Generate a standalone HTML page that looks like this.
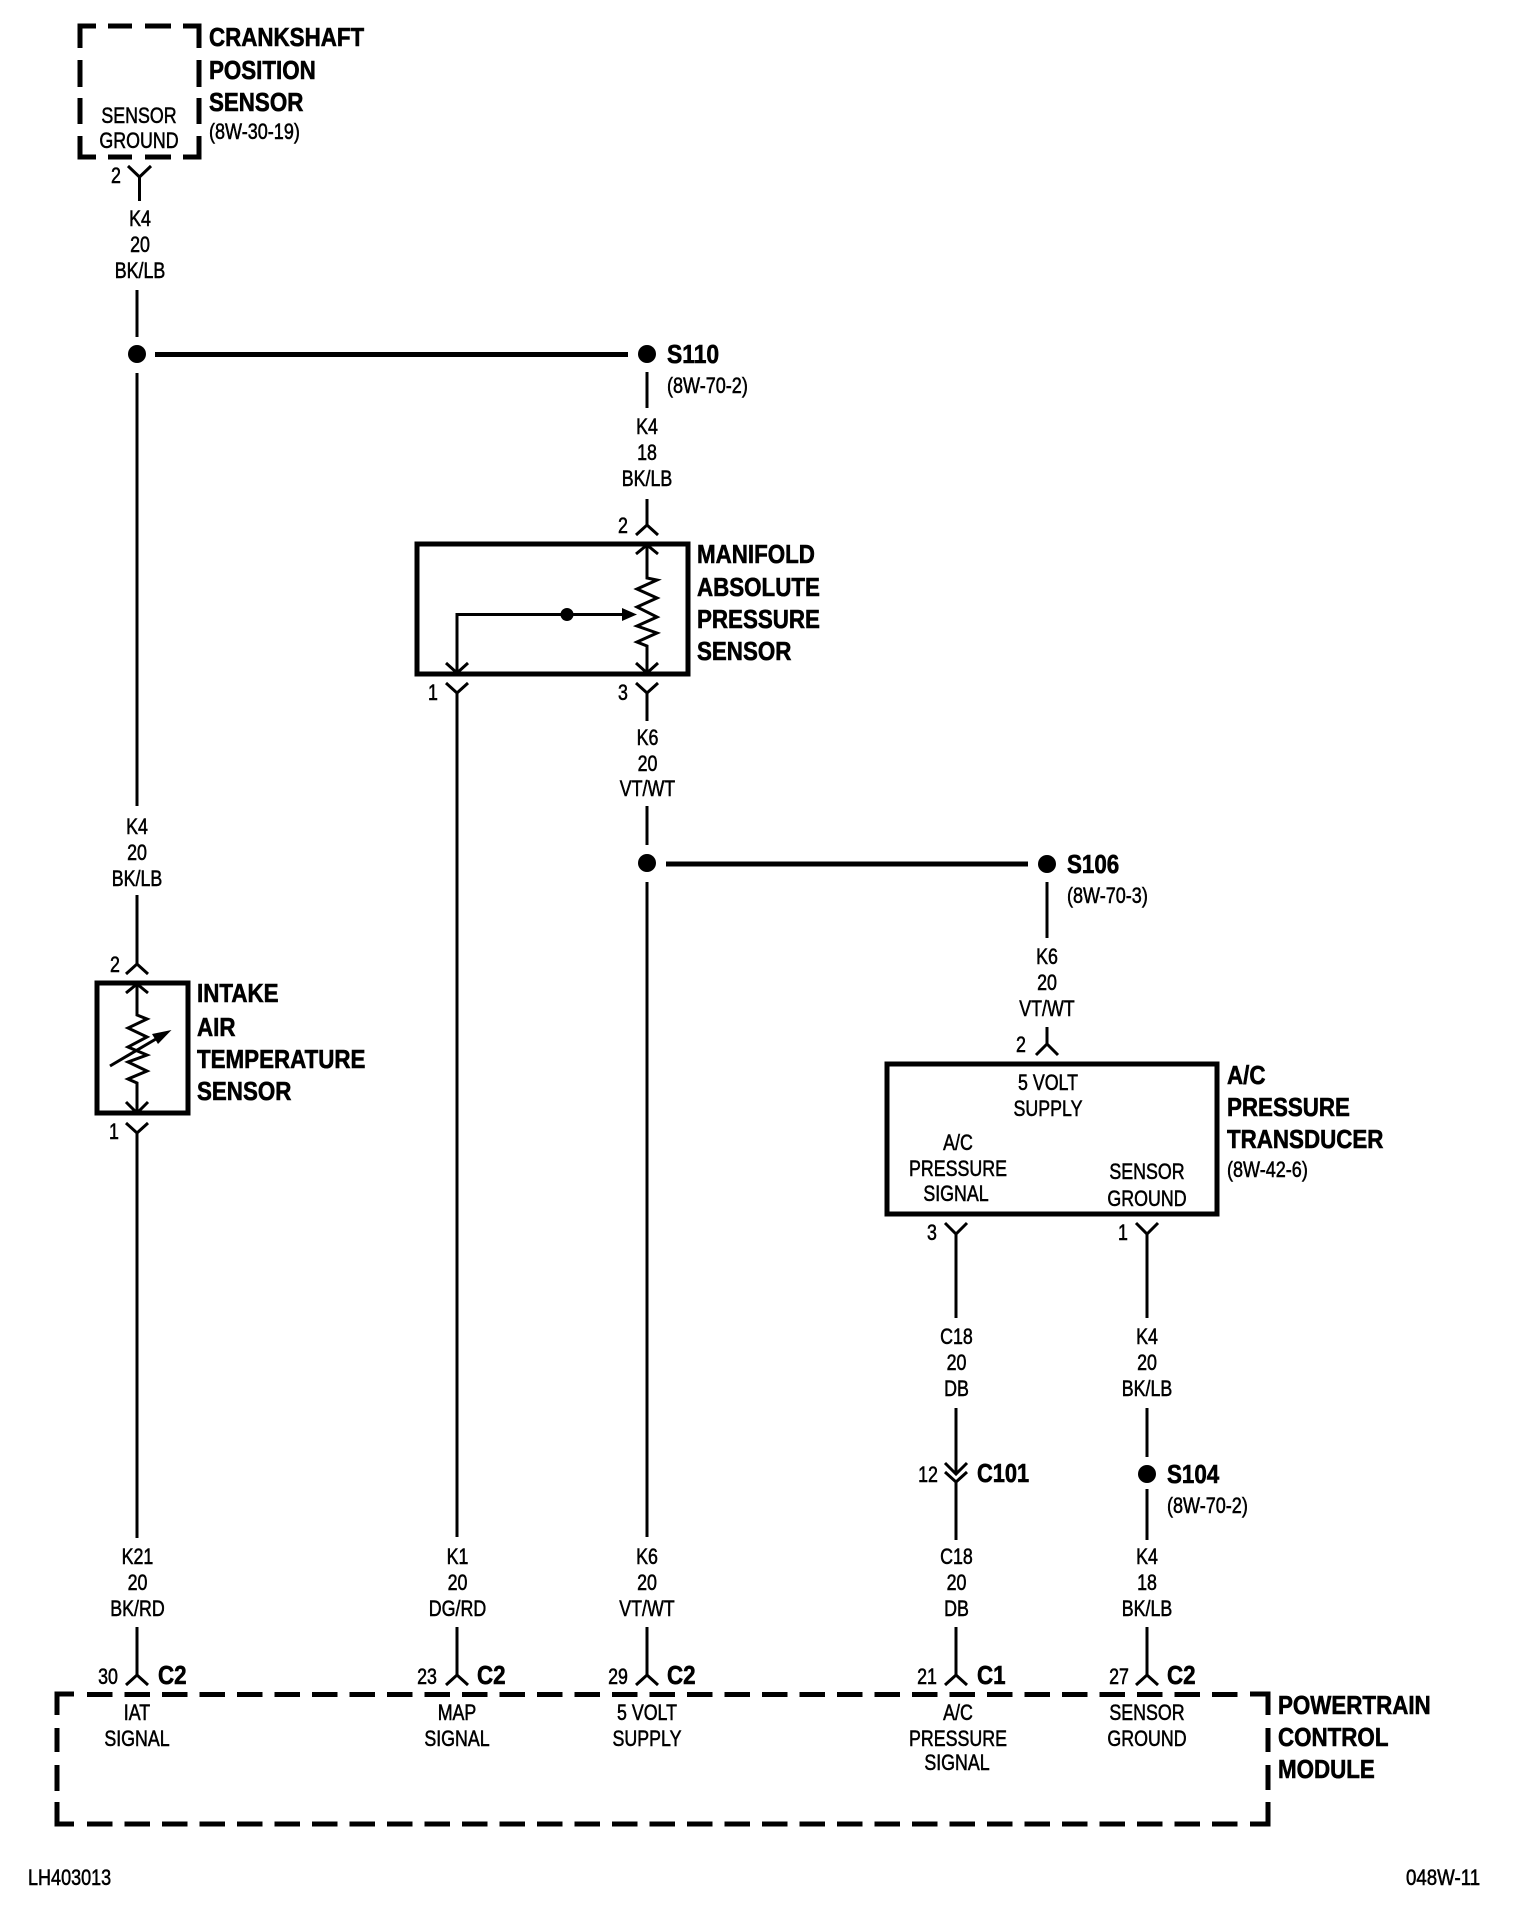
<!DOCTYPE html>
<html>
<head>
<meta charset="utf-8">
<title>Wiring diagram</title>
<style>
html,body{margin:0;padding:0;background:#fff;width:1536px;height:1918px;overflow:hidden}
svg{display:block}
text{fill:#000;font-family:"Liberation Sans",sans-serif;transform-box:fill-box}
.s{font-size:22px;text-anchor:middle;transform-origin:center;transform:scaleX(.81);stroke:#000;stroke-width:.55}
.l{font-size:22px;transform-origin:left;transform:scaleX(.82);stroke:#000;stroke-width:.55}
.b{font-size:26px;font-weight:bold;transform-origin:left;transform:scaleX(.86);stroke:#000;stroke-width:.6}
.w{fill:none;stroke:#000;stroke-width:3}
.t{fill:none;stroke:#000;stroke-width:5}
</style>
</head>
<body>
<svg width="1536" height="1918" viewBox="0 0 1536 1918" xmlns="http://www.w3.org/2000/svg">
<rect width="1536" height="1918" fill="#fff"/>

<!-- Crankshaft sensor dashed box -->
<path class="t" d="M96 26H80V48M80 60V87M80 98V124M80 136V157H96M108 26H132M145 26H171M183 26H199V48M199 60V87M199 98V124M199 136V157H183M108 157H132M145 157H171"/>
<text class="s" x="139" y="123">SENSOR</text>
<text class="s" x="139" y="148">GROUND</text>
<text class="b" x="209" y="46">CRANKSHAFT</text>
<text class="b" x="209" y="79">POSITION</text>
<text class="b" x="209" y="111">SENSOR</text>
<text class="l" x="209" y="139">(8W-30-19)</text>
<text class="s" x="116" y="183">2</text>
<path class="w" d="M128 166L139.500 177L151 166M139.500 177V201"/>
<text class="s" x="140" y="226">K4</text>
<text class="s" x="140" y="252">20</text>
<text class="s" x="140" y="278">BK/LB</text>

<!-- Top splice -->
<path class="w" d="M137 290V337M137 373V806"/>
<circle cx="137" cy="354" r="9"/>
<path class="t" d="M155 354.500H628"/>
<circle cx="647" cy="354" r="9"/>
<text class="b" x="667" y="363" style="transform:scaleX(.88)">S110</text>
<text class="l" x="667" y="393">(8W-70-2)</text>
<path class="w" d="M647 372V408"/>
<text class="s" x="647" y="434">K4</text>
<text class="s" x="647" y="460">18</text>
<text class="s" x="647" y="486">BK/LB</text>

<!-- MAP sensor -->
<text class="s" x="623" y="533">2</text>
<path class="w" d="M647 499V525M636 535L647 525L658 535"/>
<rect class="t" x="417" y="544" width="271" height="130"/>
<path class="w" d="M636 554L647 545L658 554M647 545V578L657 580L637 589L657 598L637 607L657 617L637 626L657 633L637 642L647 646V673M636 663L647 673L658 663"/>
<path class="w" d="M625 614.500H457V673M446 663L457 673L468 663"/>
<circle cx="567" cy="614.500" r="6.500"/>
<path d="M622 608L637 614.500L622 621Z"/>
<text class="b" x="697" y="563">MANIFOLD</text>
<text class="b" x="697" y="596">ABSOLUTE</text>
<text class="b" x="697" y="628">PRESSURE</text>
<text class="b" x="697" y="660">SENSOR</text>
<text class="s" x="433" y="700">1</text>
<path class="w" d="M446 683L457 693L468 683M457 693V1537"/>
<text class="s" x="623" y="700">3</text>
<path class="w" d="M636 683L647 693L658 683M647 693V721"/>
<text class="s" x="647.500" y="745">K6</text>
<text class="s" x="647.500" y="771">20</text>
<text class="s" x="647.500" y="796">VT/WT</text>

<!-- Second splice -->
<path class="w" d="M647 806V845M647 882V1537"/>
<circle cx="647" cy="863" r="9"/>
<path class="t" d="M666 864H1028"/>
<circle cx="1047" cy="864" r="9"/>
<text class="b" x="1067" y="873" style="transform:scaleX(.86)">S106</text>
<text class="l" x="1067" y="903">(8W-70-3)</text>
<path class="w" d="M1047 882V938"/>
<text class="s" x="1047" y="964">K6</text>
<text class="s" x="1047" y="990">20</text>
<text class="s" x="1047" y="1016">VT/WT</text>

<!-- A/C transducer -->
<text class="s" x="1021" y="1052">2</text>
<path class="w" d="M1047 1027V1044M1036 1055L1047 1044L1058 1055"/>
<rect class="t" x="887" y="1064" width="330" height="150"/>
<text class="s" x="1048" y="1090">5 VOLT</text>
<text class="s" x="1048" y="1116">SUPPLY</text>
<text class="s" x="958" y="1150">A/C</text>
<text class="s" x="958" y="1176">PRESSURE</text>
<text class="s" x="956" y="1201">SIGNAL</text>
<text class="s" x="1147" y="1179">SENSOR</text>
<text class="s" x="1147" y="1206">GROUND</text>
<text class="b" x="1227" y="1084">A/C</text>
<text class="b" x="1227" y="1116">PRESSURE</text>
<text class="b" x="1227" y="1148">TRANSDUCER</text>
<text class="l" x="1227" y="1177">(8W-42-6)</text>
<text class="s" x="932" y="1240">3</text>
<path class="w" d="M945 1223L956 1234L967 1223M956 1234V1318"/>
<text class="s" x="1123" y="1240">1</text>
<path class="w" d="M1136 1223L1147 1234L1158 1223M1147 1234V1318"/>
<text class="s" x="956.500" y="1344">C18</text>
<text class="s" x="956.500" y="1370">20</text>
<text class="s" x="956.500" y="1396">DB</text>
<text class="s" x="1147" y="1344">K4</text>
<text class="s" x="1147" y="1370">20</text>
<text class="s" x="1147" y="1396">BK/LB</text>

<!-- C101 -->
<path class="w" d="M956 1408V1474M945 1463L956 1474L967 1463M945 1472L956 1482L967 1472M956 1482V1540"/>
<text class="s" x="928" y="1482">12</text>
<text class="b" x="977" y="1482" style="transform:scaleX(.84)">C101</text>

<!-- S104 -->
<path class="w" d="M1147 1408V1457M1147 1489V1540"/>
<circle cx="1147" cy="1474" r="9"/>
<text class="b" x="1167" y="1483" style="transform:scaleX(.86)">S104</text>
<text class="l" x="1167" y="1513">(8W-70-2)</text>

<!-- IAT sensor -->
<text class="s" x="137" y="834">K4</text>
<text class="s" x="137" y="860">20</text>
<text class="s" x="137" y="886">BK/LB</text>
<path class="w" d="M137 895V964M126 974L137 964L148 974"/>
<text class="s" x="115" y="972">2</text>
<rect class="t" x="97" y="983" width="91" height="130"/>
<path class="w" d="M126 993L137 984L148 993M137 984V1015L147 1019L128 1028L147 1037L128 1047L147 1055L128 1062L147 1071L128 1079L137 1083V1113M126 1102L137 1113L148 1102"/>
<path class="w" d="M110 1066L161 1036"/>
<path d="M171.500 1030L152 1034L158 1044Z"/>
<text class="b" x="197" y="1002">INTAKE</text>
<text class="b" x="197" y="1036">AIR</text>
<text class="b" x="197" y="1068">TEMPERATURE</text>
<text class="b" x="197" y="1100">SENSOR</text>
<text class="s" x="114" y="1139">1</text>
<path class="w" d="M126 1123L137 1133L148 1123M137 1133V1538"/>

<!-- Bottom wire labels -->
<text class="s" x="137.500" y="1564">K21</text>
<text class="s" x="137.500" y="1590">20</text>
<text class="s" x="137.500" y="1616">BK/RD</text>
<text class="s" x="457.500" y="1564">K1</text>
<text class="s" x="457.500" y="1590">20</text>
<text class="s" x="457.500" y="1616">DG/RD</text>
<text class="s" x="647" y="1564">K6</text>
<text class="s" x="647" y="1590">20</text>
<text class="s" x="647" y="1616">VT/WT</text>
<text class="s" x="956.500" y="1564">C18</text>
<text class="s" x="956.500" y="1590">20</text>
<text class="s" x="956.500" y="1616">DB</text>
<text class="s" x="1147" y="1564">K4</text>
<text class="s" x="1147" y="1590">18</text>
<text class="s" x="1147" y="1616">BK/LB</text>

<!-- Bottom pins -->
<path class="w" d="M137 1627V1675M126 1685L137 1675L148 1685"/>
<path class="w" d="M457 1627V1675M446 1685L457 1675L468 1685"/>
<path class="w" d="M647 1627V1675M636 1685L647 1675L658 1685"/>
<path class="w" d="M956 1627V1675M945 1685L956 1675L967 1685"/>
<path class="w" d="M1147 1627V1675M1136 1685L1147 1675L1158 1685"/>
<text class="s" x="108" y="1684">30</text>
<text class="s" x="427" y="1684">23</text>
<text class="s" x="618" y="1684">29</text>
<text class="s" x="927" y="1684">21</text>
<text class="s" x="1119" y="1684">27</text>
<text class="b" x="158" y="1684">C2</text>
<text class="b" x="477" y="1684">C2</text>
<text class="b" x="667" y="1684">C2</text>
<text class="b" x="977" y="1684">C1</text>
<text class="b" x="1167" y="1684">C2</text>

<!-- PCM dashed box -->
<path class="t" d="M57 1715V1694H74M57 1728V1752M57 1765V1791M57 1802V1824H74M1268 1715V1694H1250M1268 1728V1752M1268 1765V1790M1268 1802V1824H1250"/>
<path class="t" stroke-dasharray="25.500 12" d="M87 1694.500H1238"/>
<path class="t" stroke-dasharray="25.500 12" d="M87 1824H1238"/>
<text class="s" x="137" y="1720">IAT</text>
<text class="s" x="137" y="1746">SIGNAL</text>
<text class="s" x="457" y="1720">MAP</text>
<text class="s" x="457" y="1746">SIGNAL</text>
<text class="s" x="647" y="1720">5 VOLT</text>
<text class="s" x="647" y="1746">SUPPLY</text>
<text class="s" x="958" y="1720">A/C</text>
<text class="s" x="958" y="1746">PRESSURE</text>
<text class="s" x="957" y="1770">SIGNAL</text>
<text class="s" x="1147" y="1720">SENSOR</text>
<text class="s" x="1147" y="1746">GROUND</text>
<text class="b" x="1278" y="1714">POWERTRAIN</text>
<text class="b" x="1278" y="1746">CONTROL</text>
<text class="b" x="1278" y="1778">MODULE</text>

<!-- Footer -->
<text class="l" x="28" y="1885">LH403013</text>
<text class="l" x="1406" y="1885" style="transform:scaleX(.85)">048W-11</text>
</svg>
</body>
</html>
